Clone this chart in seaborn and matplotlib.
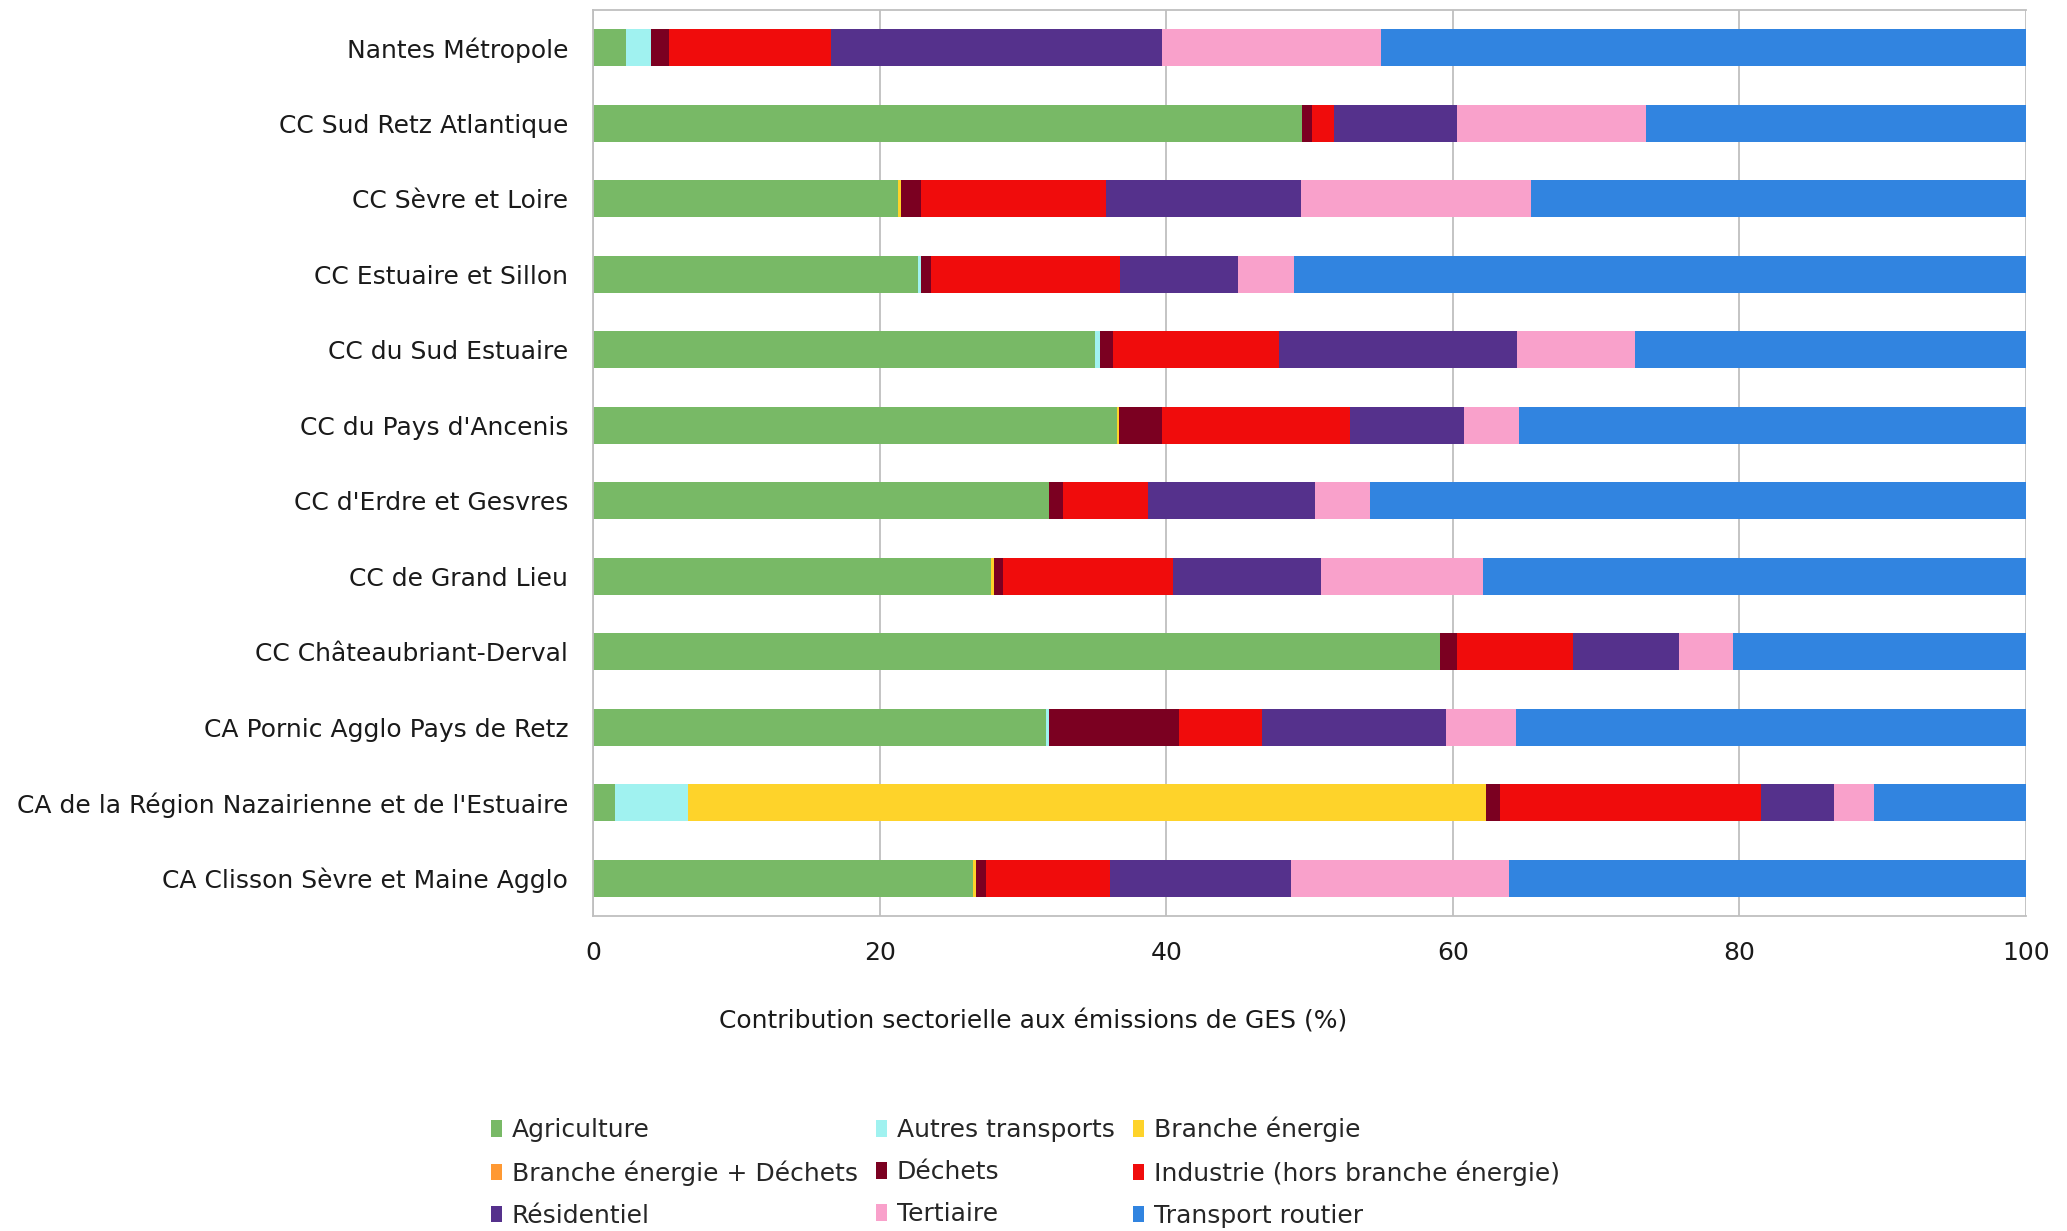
import matplotlib
matplotlib.use("Agg")
import matplotlib.pyplot as plt
from matplotlib.patches import Patch
from matplotlib.ticker import MultipleLocator
import seaborn as sns
import numpy as np
import pandas as pd

territoires = [
    "Nantes Métropole",
    "CC Sud Retz Atlantique",
    "CC Sèvre et Loire",
    "CC Estuaire et Sillon",
    "CC du Sud Estuaire",
    "CC du Pays d'Ancenis",
    "CC d'Erdre et Gesvres",
    "CC de Grand Lieu",
    "CC Châteaubriant-Derval",
    "CA Pornic Agglo Pays de Retz",
    "CA de la Région Nazairienne et de l'Estuaire",
    "CA Clisson Sèvre et Maine Agglo",
]

secteurs = [
    "Agriculture", "Autres transports", "Branche énergie",
    "Branche énergie + Déchets", "Déchets", "Industrie (hors branche énergie)",
    "Résidentiel", "Tertiaire", "Transport routier",
]

# contributions en %, une liste par secteur (ordre des territoires ci-dessus)
agriculture = [2.3, 49.5, 21.3, 22.7, 35.0, 36.6, 31.8, 27.8, 59.1, 31.6, 1.5, 26.5]
autres_transports = [1.7, 0.0, 0.0, 0.2, 0.4, 0.0, 0.0, 0.0, 0.0, 0.2, 5.1, 0.0]
branche_energie = [0.0, 0.0, 0.2, 0.0, 0.0, 0.1, 0.0, 0.2, 0.0, 0.0, 55.7, 0.2]
branche_energie_dechets = [0.0] * 12
dechets = [1.3, 0.7, 1.4, 0.7, 0.9, 3.0, 1.0, 0.6, 1.2, 9.1, 1.0, 0.7]
industrie = [11.3, 1.5, 12.9, 13.2, 11.6, 13.1, 5.9, 11.9, 8.1, 5.8, 18.2, 8.7]
residentiel = [23.1, 8.6, 13.6, 8.2, 16.6, 8.0, 11.7, 10.3, 7.4, 12.8, 5.1, 12.6]
tertiaire = [15.3, 13.2, 16.1, 3.9, 8.2, 3.8, 3.8, 11.3, 3.8, 4.9, 2.8, 15.2]
transport_routier = [45.0, 26.5, 34.5, 51.1, 27.3, 35.4, 45.8, 37.9, 20.4, 35.6, 10.6, 36.1]

couleurs = ["#78B966", "#A0F2F0", "#FED32A", "#FF9933", "#7B0021",
            "#F00C0C", "#55318C", "#F9A1CB", "#3184E0"]

valeurs = np.array([agriculture, autres_transports, branche_energie,
                    branche_energie_dechets, dechets, industrie,
                    residentiel, tertiaire, transport_routier])
# normalisation a 100 %
valeurs = valeurs / valeurs.sum(axis=0) * 100
cumul = np.cumsum(valeurs, axis=0)

sns.set_theme(style="white")
plt.rcParams["font.family"] = ["DejaVu Sans"]
fs = 18

fig = plt.figure(figsize=(20.67, 12.31), dpi=100)
ax = fig.add_axes([0.287, 0.256, 0.693, 0.736])

# barres empilees : on trace les cumuls du plus grand au plus petit
for i in range(len(secteurs) - 1, -1, -1):
    df = pd.DataFrame({"territoire": territoires, "valeur": cumul[i]})
    sns.barplot(data=df, x="valeur", y="territoire", orient="h",
                color=couleurs[i], width=0.49, saturation=1,
                linewidth=0, ax=ax)

ax.set_xlim(0, 100)
ax.set_ylim(len(territoires) - 0.5, -0.5)
ax.xaxis.set_major_locator(MultipleLocator(20))
ax.set_axisbelow(True)
ax.grid(axis="x", color="#BFBFBF", linewidth=1.3)
ax.grid(axis="y", visible=False)

for s in ["left", "bottom", "top"]:
    ax.spines[s].set_color("#BFBFBF")
    ax.spines[s].set_linewidth(1.3)
ax.spines["right"].set_visible(False)

ax.set_yticks(np.arange(len(territoires)))
ax.set_yticks(np.arange(len(territoires) + 1) - 0.5, minor=True)
ax.tick_params(axis="y", which="major", length=0, pad=18, labelsize=fs,
               labelcolor="#1a1a1a")
ax.tick_params(axis="y", which="minor", length=8, color="#BFBFBF", width=1.3)
ax.tick_params(axis="x", which="major", length=9, color="#BFBFBF", width=1.3,
               pad=9, labelsize=fs, labelcolor="#1a1a1a")
ax.set_xlabel("")
ax.set_ylabel("")

fig.text(0.5, 0.170, "Contribution sectorielle aux émissions de GES (%)",
         ha="center", va="center", fontsize=fs, color="#1a1a1a")

# legende remplie ligne par ligne (3 colonnes)
handles = [Patch(facecolor=c, edgecolor="none", label=s)
           for s, c in zip(secteurs, couleurs)]
ordre = [0, 3, 6, 1, 4, 7, 2, 5, 8]
fig.legend([handles[k] for k in ordre], [secteurs[k] for k in ordre],
           loc="upper left", bbox_to_anchor=(0.2315, 0.103), ncol=3,
           frameon=False, borderpad=0, handlelength=0.42, handleheight=0.65,
           handletextpad=0.4, columnspacing=0.75, labelspacing=0.72,
           fontsize=fs)

fig.savefig("out.png", dpi=100)
